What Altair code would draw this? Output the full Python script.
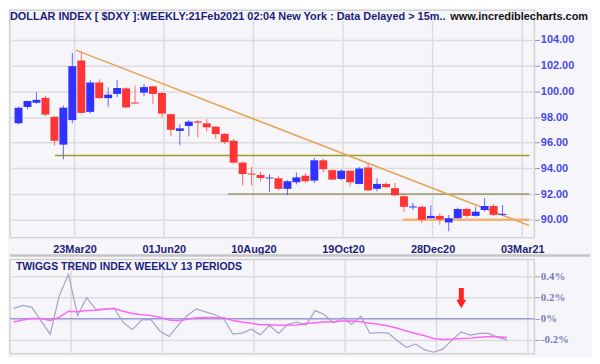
import altair as alt
import pandas as pd

# ---------------- data ----------------
opens = [97.51, 98.78, 99.11, 99.49, 98.02, 95.85, 97.76, 102.40, 98.40, 100.69,
         99.47, 99.80, 100.23, 99.14, 99.90, 100.39, 99.87, 98.22, 96.92, 97.30,
         97.66, 97.51, 97.25, 96.69, 96.15, 94.45, 93.60, 93.48, 93.22, 93.23,
         92.41, 92.92, 93.43, 93.05, 94.63, 93.86, 93.18, 93.82, 92.79, 94.07,
         92.41, 92.79, 92.46, 91.83, 90.96, 91.01, 90.12, 90.30, 89.79, 90.12,
         90.84, 90.30, 90.76, 91.07, 90.38]
highs = [98.81, 99.26, 99.93, 99.67, 98.04, 98.90, 102.98, 103.11, 100.87, 100.94,
         100.31, 100.89, 100.31, 100.43, 100.56, 100.43, 99.95, 98.27, 97.45, 97.76,
         97.76, 97.83, 97.28, 96.74, 96.28, 94.53, 94.12, 93.74, 93.56, 93.43,
         93.08, 93.69, 93.63, 94.83, 94.76, 93.92, 93.92, 93.84, 94.12, 94.40,
         93.23, 92.92, 92.87, 92.03, 91.32, 91.09, 91.14, 90.50, 90.38, 90.94,
         90.94, 91.01, 91.70, 91.22, 91.14]
lows = [97.43, 98.60, 99.03, 98.06, 95.77, 94.70, 97.51, 98.27, 98.27, 99.42,
        98.81, 99.55, 98.71, 99.05, 99.62, 99.03, 97.96, 96.49, 95.80, 96.49,
        96.41, 96.87, 96.31, 95.90, 94.37, 92.67, 92.67, 92.98, 92.16, 92.29,
        91.91, 92.75, 92.87, 92.87, 93.69, 93.08, 93.08, 92.59, 92.77, 92.24,
        92.21, 92.46, 91.85, 90.63, 90.76, 89.74, 90.10, 89.61, 89.10, 90.10,
        90.20, 90.25, 90.63, 90.30, 90.30]
closes = [98.73, 99.24, 99.34, 98.19, 96.15, 98.73, 101.96, 98.32, 100.69, 99.47,
          99.74, 100.26, 98.75, 99.06, 100.33, 99.80, 98.27, 97.00, 97.12, 97.64,
          97.56, 97.20, 96.67, 96.05, 94.45, 93.56, 93.52, 93.25, 93.29, 92.41,
          93.00, 93.30, 93.00, 94.63, 93.94, 93.13, 93.82, 92.92, 93.99, 92.29,
          92.79, 92.54, 91.91, 91.01, 91.04, 90.00, 90.30, 90.04, 90.12, 90.84,
          90.30, 90.63, 91.07, 90.38, 90.46]

tti = [0.096, 0.126, 0.108, -0.02, -0.146, 0.220, 0.418, 0.031, 0.200, 0.086,
       0.093, 0.100, -0.037, -0.102, -0.012, -0.006, -0.115, -0.167, -0.062, 0.031,
       0.093, 0.065, 0.040, 0.000, -0.146, -0.136, -0.099, -0.152, -0.062, -0.139,
       -0.053, -0.031, -0.059, 0.077, 0.040, -0.037, 0.009, -0.053, 0.024, -0.139,
       -0.130, -0.136, -0.208, -0.270, -0.239, -0.294, -0.316, -0.285, -0.200, -0.124,
       -0.155, -0.139, -0.139, -0.176, -0.200]
signal = [-0.031, -0.012, 0.003, 0.003, -0.016, 0.015, 0.071, 0.065, 0.077, 0.080,
          0.090, 0.096, 0.071, 0.049, 0.037, 0.031, 0.015, -0.012, -0.019, -0.006,
          0.009, 0.012, 0.009, 0.009, -0.016, -0.031, -0.043, -0.056, -0.056, -0.062,
          -0.062, -0.059, -0.046, -0.037, -0.031, -0.031, -0.022, -0.022, -0.028, -0.043,
          -0.053, -0.068, -0.090, -0.115, -0.139, -0.161, -0.186, -0.195, -0.192, -0.186,
          -0.183, -0.174, -0.167, -0.170, -0.176]

tick_pos = [6.25, 16.2, 26.2, 36.2, 46.2, 56.2]
tick_labels = ["23Mar20", "01Jun20", "10Aug20", "19Oct20", "28Dec20", "03Mar21"]
price_ticks = [90, 92, 94, 96, 98, 100, 102, 104]
tti_ticks = [0.4, 0.2, 0, -0.2]

levels = [95, 92, 90]
level_start = [4.05, 23.36, 42.88]
x_end = 57.0
trend_x = [6.39, 57.0]
trend_y = [103.21, 89.54]

arrow_index = [49]
arrow_top = [0.29]
arrow_shaft_end = [0.175]
arrow_head = [0.139]

title_text = "DOLLAR INDEX [ $DXY ]:WEEKLY:21Feb2021 02:04 New York : Data Delayed > 15m.."
site_text = "www.incrediblecharts.com"
sub_title = "TWIGGS TREND INDEX WEEKLY 13 PERIODS"

# ---------------- styles ----------------
level_colors = ["#9c9a2a", "#a3a27c", "#f6b274"]
level_widths = [1.6, 1.6, 2.5]
W = 528
H_MAIN = 229
H_LOW = 95
GRID = "#dcdcdc"
FONT = "Liberation Sans"

n = len(opens)
df = pd.DataFrame({"i": list(range(n)), "open": opens, "high": highs,
                   "low": lows, "close": closes})
df["dir"] = ["up" if c >= o else "down" for o, c in zip(opens, closes)]
tdf = pd.DataFrame({"i": list(range(n)), "tti": tti, "signal": signal})
ticks_df = pd.DataFrame({"pos": tick_pos})

xs = alt.Scale(domain=[-0.4, x_end], nice=False, zero=False)
ys = alt.Scale(domain=[88.61, 106.32], nice=False, zero=False)
ls = alt.Scale(domain=[-0.3312, 0.5594], nice=False, zero=False)

label_arr = "[" + ",".join("'%s'" % t for t in tick_labels) + "]"
x_axis_main = alt.Axis(values=tick_pos, labelExpr=label_arr + "[round((datum.value - %s)/10)]" % tick_pos[0],
                       ticks=False, domain=False, grid=False, title=None,
                       labelFont=FONT, labelFontSize=11, labelFontWeight="bold",
                       labelColor="#1f1f75", labelPadding=6)
y_axis_main = alt.Axis(orient="right", values=price_ticks, format=".2f", title=None,
                       tickSize=5, tickColor="#8a8ad8", labelColor="#4848e6",
                       labelFont=FONT, labelFontSize=11, labelFontWeight="bold",
                       labelPadding=1, grid=True, gridColor=GRID, gridWidth=1.5,
                       domain=False)

X = lambda f: alt.X(f, scale=xs, axis=x_axis_main)
Y = lambda f: alt.Y(f, scale=ys, axis=y_axis_main)

vgrid = alt.Chart(ticks_df).mark_rule(color=GRID, strokeWidth=1.5).encode(
    x=X("pos:Q"), y=alt.value(11), y2=alt.value(H_MAIN))

level_layers = []
for lv, st, colr, wd in zip(levels, level_start, level_colors, level_widths):
    ldf = pd.DataFrame({"x": [st], "x2": [x_end], "y": [lv]})
    level_layers.append(alt.Chart(ldf).mark_rule(color=colr, strokeWidth=wd).encode(
        x=X("x:Q"), x2="x2:Q", y=Y("y:Q")))

trend = alt.Chart(pd.DataFrame({"x": trend_x, "y": trend_y})).mark_line(
    color="#e8a458", strokeWidth=1.5).encode(x=X("x:Q"), y=Y("y:Q"))

wicks = alt.Chart(df).mark_rule(strokeWidth=1).encode(
    x=X("i:Q"), y=Y("low:Q"), y2="high:Q",
    color=alt.Color("dir:N", scale=alt.Scale(domain=["up", "down"], range=["#6464ff", "#ff6868"]), legend=None))
bodies = alt.Chart(df).mark_bar(size=8).encode(
    x=X("i:Q"), y=Y("open:Q"), y2="close:Q",
    color=alt.Color("dir:N", scale=alt.Scale(domain=["up", "down"], range=["#3232ff", "#ff3434"]), legend=None))

title_mark = alt.Chart(pd.DataFrame({"t": [title_text]})).mark_text(
    align="left", baseline="top", font=FONT, fontSize=11, fontWeight="bold", color="#1c1c7a"
).encode(x=alt.value(0), y=alt.value(1), text="t:N")
site_mark = alt.Chart(pd.DataFrame({"t": [site_text]})).mark_text(
    align="right", baseline="top", font=FONT, fontSize=11, fontWeight="bold", color="#111111"
).encode(x=alt.value(582), y=alt.value(1), text="t:N")

main = alt.layer(vgrid, *level_layers, trend, wicks, bodies, title_mark, site_mark).resolve_scale(
    color="independent").properties(width=W, height=H_MAIN)

# ---------------- lower panel ----------------
x_axis_low = alt.Axis(values=tick_pos, labels=False, ticks=False, domain=False, grid=True,
                      gridColor=GRID, gridWidth=1.5, title=None)
y_axis_low = alt.Axis(orient="right", values=tti_ticks, title=None,
                      labelExpr="datum.value == 0 ? '0%' : (datum.value < 0 ? '-' : '') + format(abs(datum.value), '.1f') + '%'",
                      tickSize=5, tickColor="#9a9ad0", labelColor="#7a7ab8",
                      labelFont="Liberation Serif", labelFontSize=11, labelFontWeight="bold",
                      labelPadding=1, grid=True, gridColor=GRID, gridWidth=1.5, domain=False)
XL = lambda f: alt.X(f, scale=xs, axis=x_axis_low)
YL = lambda f: alt.Y(f, scale=ls, axis=y_axis_low)

zero = alt.Chart(pd.DataFrame({"z": [0]})).mark_rule(color="#7f7fd6", strokeWidth=1.2).encode(y=YL("z:Q"))
tti_line = alt.Chart(tdf).mark_line(color="#a3a3cc", strokeWidth=1.2).encode(x=XL("i:Q"), y=YL("tti:Q"))
sig_line = alt.Chart(tdf).mark_line(color="#ff66f4", strokeWidth=1.5).encode(x=XL("i:Q"), y=YL("signal:Q"))
adf = pd.DataFrame({"x": arrow_index, "top": arrow_top, "end": arrow_shaft_end, "head": arrow_head})
arrow_shaft = alt.Chart(adf).mark_rule(color="#ff2222", strokeWidth=5).encode(
    x=XL("x:Q"), y=YL("top:Q"), y2="end:Q")
arrow_tip = alt.Chart(adf).mark_point(shape="triangle-down", filled=True, size=100, opacity=1,
                                      color="#ff2222").encode(x=XL("x:Q"), y=YL("head:Q"))
sub_mark = alt.Chart(pd.DataFrame({"t": [sub_title]})).mark_text(
    align="left", baseline="middle", font=FONT, fontSize=10.5, fontWeight="bold", color="#1c1c7a"
).encode(x=alt.value(6), y=alt.value(8), text="t:N")
sep = alt.Chart(pd.DataFrame({"t": [0]})).mark_rule(color="#c6c6c6", strokeWidth=2.5).encode(
    x=alt.value(0), x2=alt.value(584), y=alt.value(-4))

lower = alt.layer(sep, zero, tti_line, sig_line, arrow_shaft, arrow_tip, sub_mark).properties(
    width=W, height=H_LOW)

chart = alt.vconcat(main, lower, spacing=22, bounds="flush").properties(
    padding=0, background="#f6f6fa").configure_view(stroke="#d2d2d2", strokeWidth=1.5)

chart.save("out.html", embed_options={"renderer": "svg", "actions": False})
